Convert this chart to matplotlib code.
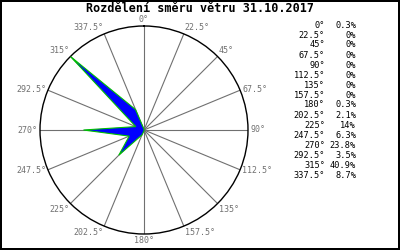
import numpy as np
import matplotlib.pyplot as plt

#-- wind direction sectors and share of time (%)
directions = [0, 22.5, 45, 67.5, 90, 112.5, 135, 157.5,
              180, 202.5, 225, 247.5, 270, 292.5, 315, 337.5]
shares = [0.3, 0, 0, 0, 0, 0, 0, 0, 0.3, 2.1, 14, 6.3, 23.8, 3.5, 40.9, 8.7]
share_labels = ["0.3%", "0%", "0%", "0%", "0%", "0%", "0%", "0%",
                "0.3%", "2.1%", "14%", "6.3%", "23.8%", "3.5%", "40.9%", "8.7%"]
title = "Rozdělení směru větru 31.10.2017"

mono = "DejaVu Sans Mono"
grey = "#707070"

fig = plt.figure(figsize=(4, 2.5), dpi=100, edgecolor="black", linewidth=1.5)
ax = fig.add_axes([0.1, 0.064, 0.52, 0.832], projection="polar")
ax.set_theta_zero_location("N")
ax.set_theta_direction(-1)
rmax = max(shares)
ax.set_ylim(0, rmax)
ax.grid(False)
ax.set_xticks([])
ax.set_yticks([])
ax.spines["polar"].set_color("black")
ax.spines["polar"].set_linewidth(1.0)

theta = np.deg2rad(directions)

#-- spokes + labels
for d, t in zip(directions, theta):
    ax.plot([t, t], [0, rmax], color=grey, lw=0.8, zorder=1)
    s = np.sin(t)
    c = np.cos(t)
    if abs(s) < 1e-6:
        ha = "center"
    elif s > 0:
        ha = "left"
    else:
        ha = "right"
    if abs(c) < 0.5:
        va = "center"
    elif c > 0:
        va = "bottom"
    else:
        va = "top"
    lab = "%g°" % d
    ax.text(t, rmax * 1.02, lab, ha=ha, va=va, fontsize=6, family=mono,
            color=grey)

#-- rose polygon
ax.fill(theta, shares, facecolor="#0000ff", edgecolor="#00c000", lw=0.8, zorder=3)

#-- title + legend table
fig.text(0.5, 0.966, title, ha="center", va="center", fontsize=8.5,
         family=mono, fontweight="bold")
for i, (d, p) in enumerate(zip(directions, share_labels)):
    yy = 1 - (25 + 10 * i) / 250.
    fig.text(325 / 400., yy, "%g°" % d, ha="right", va="center",
             fontsize=6.2, family=mono)
    fig.text(356 / 400., yy, p, ha="right", va="center",
             fontsize=6.2, family=mono)

fig.savefig("out.png", dpi=100)
